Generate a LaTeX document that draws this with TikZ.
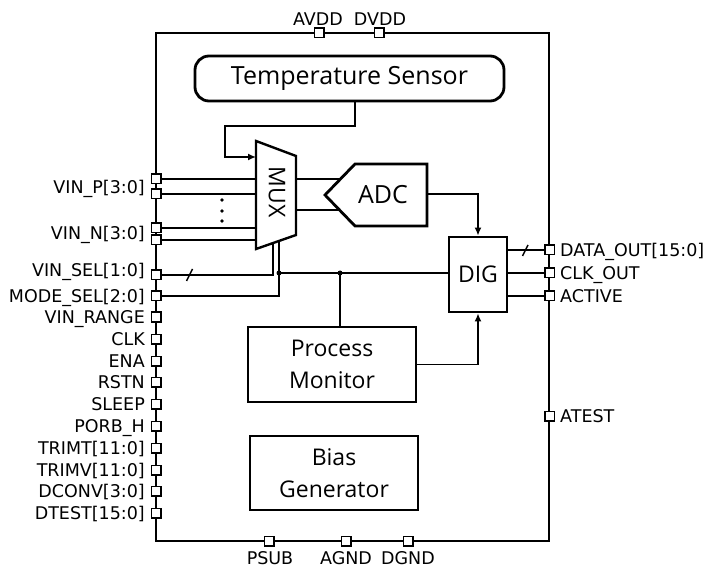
\documentclass[tikz,border=0pt]{standalone}
\usepackage{fontspec}
\setmainfont{DejaVu Sans}
\newfontfamily\blockfont{Open Sans}
\usetikzlibrary{arrows.meta}
\begin{document}
\begin{tikzpicture}[x=1pt,y=-1pt,
 pinbox/.style={draw,fill=white,line width=1.5pt,minimum size=9.5pt,inner sep=0pt},
 lbl/.style={font=\fontsize{17.5}{20}\selectfont,inner sep=0pt},
 blk/.style={draw,line width=2.8pt,font=\blockfont\fontsize{23}{32}\selectfont,align=center,inner sep=0pt},
 btxt/.style={font=\blockfont\fontsize{23}{28}\selectfont,inner sep=0pt},
 wire/.style={line width=2.3pt},
 thinwire/.style={line width=1.5pt},
 arr/.style={-{Latex[length=8pt,width=7pt]}},
 jdot/.style={circle,fill,inner sep=0pt,minimum size=5pt},
 sdot/.style={circle,fill,inner sep=0pt,minimum size=3.8pt}
]
\useasboundingbox (0,0) rectangle (712,569);

% chip outline
\node[draw,line width=2.5pt,minimum width=393pt,minimum height=508pt,inner sep=0pt] (chip) at (352.5,287) {};

% blocks
\node[blk,rounded corners=14pt,minimum width=309pt,minimum height=45pt,font=\blockfont\fontsize{25}{30}\selectfont] (ts) at (349.5,78.5) {Temperature Sensor};
\node[blk,minimum width=58pt,minimum height=75pt] (dig) at (478,274.5) {DIG};
\node[blk,minimum width=168pt,minimum height=75pt] (pm) at (332,364.5) {Process\\Monitor};
\node[blk,minimum width=168pt,minimum height=74pt] (bg) at (334,473) {Bias\\Generator};

% MUX
\coordinate (m1) at (256,141);
\coordinate (m2) at (296,156);
\coordinate (m3) at (296,235);
\coordinate (m4) at (256,249);
\draw[line width=2.4pt,line join=miter] (m1) -- (m2) -- (m3) -- (m4) -- cycle;
\node[btxt,rotate=-90] (muxlbl) at (277,192) {MUX};

% ADC
\coordinate (d1) at (355,164);
\coordinate (d2) at (427,164);
\coordinate (d3) at (427,226);
\coordinate (d4) at (355,226);
\coordinate (d5) at (325,195);
\draw[line width=2.8pt,line join=miter] (d1) -- (d2) -- (d3) -- (d4) -- (d5) -- cycle;
\node[btxt,font=\blockfont\fontsize{25}{28}\selectfont] (adclbl) at (383,195) {ADC};

% left pins
\foreach \n/\y in {vp0/179,vp1/194,vn0/228,vn1/240,vsel/275,msel/296,vr/317,clk/339,ena/361,rstn/382,sleep/404,porb/426,trimt/448,trimv/470,dconv/491,dtest/513}
  \node[pinbox] (\n) at (156,\y) {};

% left labels
\node[lbl,anchor=base east] (lvp) at (145,193.5) {VIN\_P[3:0]};
\node[lbl,anchor=base east] (lvn) at (145,239.5) {VIN\_N[3:0]};
\node[lbl,anchor=base east] (lvs) at (145,276.5) {VIN\_SEL[1:0]};
\node[lbl,anchor=base east] (lms) at (145,302.5) {MODE\_SEL[2:0]};
\node[lbl,anchor=base east] (lvr) at (145,323.5) {VIN\_RANGE};
\node[lbl,anchor=base east] (lclk) at (145,345.5) {CLK};
\node[lbl,anchor=base east] (lena) at (145,367.5) {ENA};
\node[lbl,anchor=base east] (lrstn) at (145,388.5) {RSTN};
\node[lbl,anchor=base east] (lsleep) at (145,410.5) {SLEEP};
\node[lbl,anchor=base east] (lporb) at (145,432.5) {PORB\_H};
\node[lbl,anchor=base east] (ltrimt) at (145,454.5) {TRIMT[11:0]};
\node[lbl,anchor=base east] (ltrimv) at (145,476.5) {TRIMV[11:0]};
\node[lbl,anchor=base east] (ldconv) at (145,497.5) {DCONV[3:0]};
\node[lbl,anchor=base east] (ldtest) at (145,519.5) {DTEST[15:0]};

% right pins
\node[pinbox] (dout) at (549.5,250) {};
\node[pinbox] (cko) at (549.5,273) {};
\node[pinbox] (act) at (549.5,296) {};
\node[pinbox] (atest) at (549.5,416) {};
\node[lbl,anchor=base west] (ldout) at (560,256.5) {DATA\_OUT[15:0]};
\node[lbl,anchor=base west] (lcko) at (560,279.5) {CLK\_OUT};
\node[lbl,anchor=base west] (lact) at (560,302.5) {ACTIVE};
\node[lbl,anchor=base west] (latest) at (560,422.5) {ATEST};

% top pins
\node[pinbox] (avdd) at (319,33) {};
\node[pinbox] (dvdd) at (379,33) {};
\node[lbl,anchor=base] (lavdd) at (318,26) {AVDD};
\node[lbl,anchor=base] (ldvdd) at (380,26) {DVDD};

% bottom pins
\node[pinbox] (psub) at (269,541) {};
\node[pinbox] (agnd) at (346,541) {};
\node[pinbox] (dgnd) at (408,541) {};
\node[lbl,anchor=base] (lpsub) at (270,564.5) {PSUB};
\node[lbl,anchor=base] (lagnd) at (346,564.5) {AGND};
\node[lbl,anchor=base] (ldgnd) at (408,564.5) {DGND};

% input wires to MUX
\foreach \n in {vp0,vp1,vn0,vn1}
  \draw[wire] (\n) -- (\n -| m1);
\node[sdot] (e1) at (222,200) {};
\node[sdot] (e2) at (222,211) {};
\node[sdot] (e3) at (222,221) {};

% MUX to ADC
\coordinate (a1) at (296,179);
\coordinate (a2) at (340.5,179);
\coordinate (a3) at (296,210);
\coordinate (a4) at (339.5,210);
\draw[wire] (a1) -- (a2);
\draw[wire] (a3) -- (a4);

% temperature sensor to MUX
\coordinate (tA) at (355,126);
\coordinate (tB) at (225,126);
\coordinate (tC) at (225,157);
\coordinate (tD) at (256,157);
\draw[thinwire,arr] (ts.south -| tA) -- (tA) -- (tB) -- (tC) -- (tD);

% ADC to DIG
\coordinate (adco) at (427,194);
\draw[wire,arr] (adco) -| (dig.north);

% select lines
\coordinate (vsu) at (273,243);
\coordinate (msu) at (279,241);
\draw[thinwire] (vsel) -| (vsu);
\draw[wire] (msel) -| (msu);
\node[jdot] (j1) at (279,273) {};
\node[jdot] (j2) at (340,273) {};
\draw[thinwire] (j1.center) -- (j1 -| dig.west);
\draw[thinwire] (j2.center) -- (j2 |- pm.north);
\coordinate (s1a) at (186.5,281);
\coordinate (s1b) at (192.5,269);
\draw[thinwire] (s1a) -- (s1b);

% process monitor to DIG
\draw[thinwire,arr] (pm.east) -| (dig.south);

% DIG outputs
\draw[wire] (dig.east |- dout) -- (dout);
\draw[wire] (dig.east |- cko) -- (cko);
\draw[wire] (dig.east |- act) -- (act);
\coordinate (s2a) at (522.5,256);
\coordinate (s2b) at (528,245);
\draw[thinwire] (s2a) -- (s2b);
\end{tikzpicture}
\end{document}
